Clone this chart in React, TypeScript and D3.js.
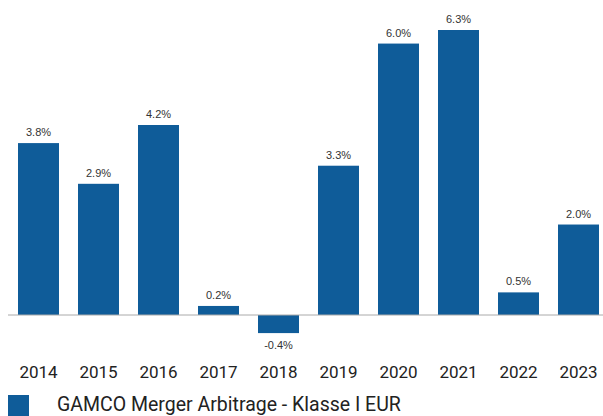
import React from "react";
import * as d3 from "d3";

const years = ["2014", "2015", "2016", "2017", "2018", "2019", "2020", "2021", "2022", "2023"];
const values = [3.8, 2.9, 4.2, 0.2, -0.4, 3.3, 6.0, 6.3, 0.5, 2.0];
const seriesName = "GAMCO Merger Arbitrage - Klasse I EUR";

const W = 603;
const H = 416;
const BAR = "#0f5c99";

export default function App() {
  const x = d3
    .scaleBand<string>()
    .domain(years)
    .range([8, 609])
    .paddingInner(0.3167)
    .paddingOuter(0.1667);
  const y = d3.scaleLinear().domain([0, 6.3]).range([315, 30]);

  return (
    <svg
      width={W}
      height={H}
      style={{ position: "absolute", left: 0, top: 0 }}
      fontFamily="Roboto, 'Liberation Sans', sans-serif"
    >
      {years.map((yr, i) => {
        const v = values[i];
        const x0 = x(yr)!;
        const yTop = y(Math.max(v, 0));
        const yBot = y(Math.min(v, 0));
        const cx = x0 + x.bandwidth() / 2;
        return (
          <g key={yr}>
            <rect x={x0} y={yTop} width={x.bandwidth()} height={yBot - yTop} fill={BAR} />
            <text
              x={cx}
              y={v >= 0 ? yTop - 7 : yBot + 16}
              textAnchor="middle"
              fontSize={11}
              fontFamily="'Liberation Sans', Arial, sans-serif"
              fill="#333"
            >
              {v.toFixed(1) + "%"}
            </text>
            <text x={cx} y={378} textAnchor="middle" fontSize={17} fill="#222">
              {yr}
            </text>
          </g>
        );
      })}
      <line x1={8} x2={603} y1={y(0)} y2={y(0)} stroke="#aaa" strokeWidth={1} />
      <rect x={8} y={395} width={21} height={21} fill={BAR} />
      <text x={57} y={411} fontSize={19.5} fill="#222">
        {seriesName}
      </text>
    </svg>
  );
}
